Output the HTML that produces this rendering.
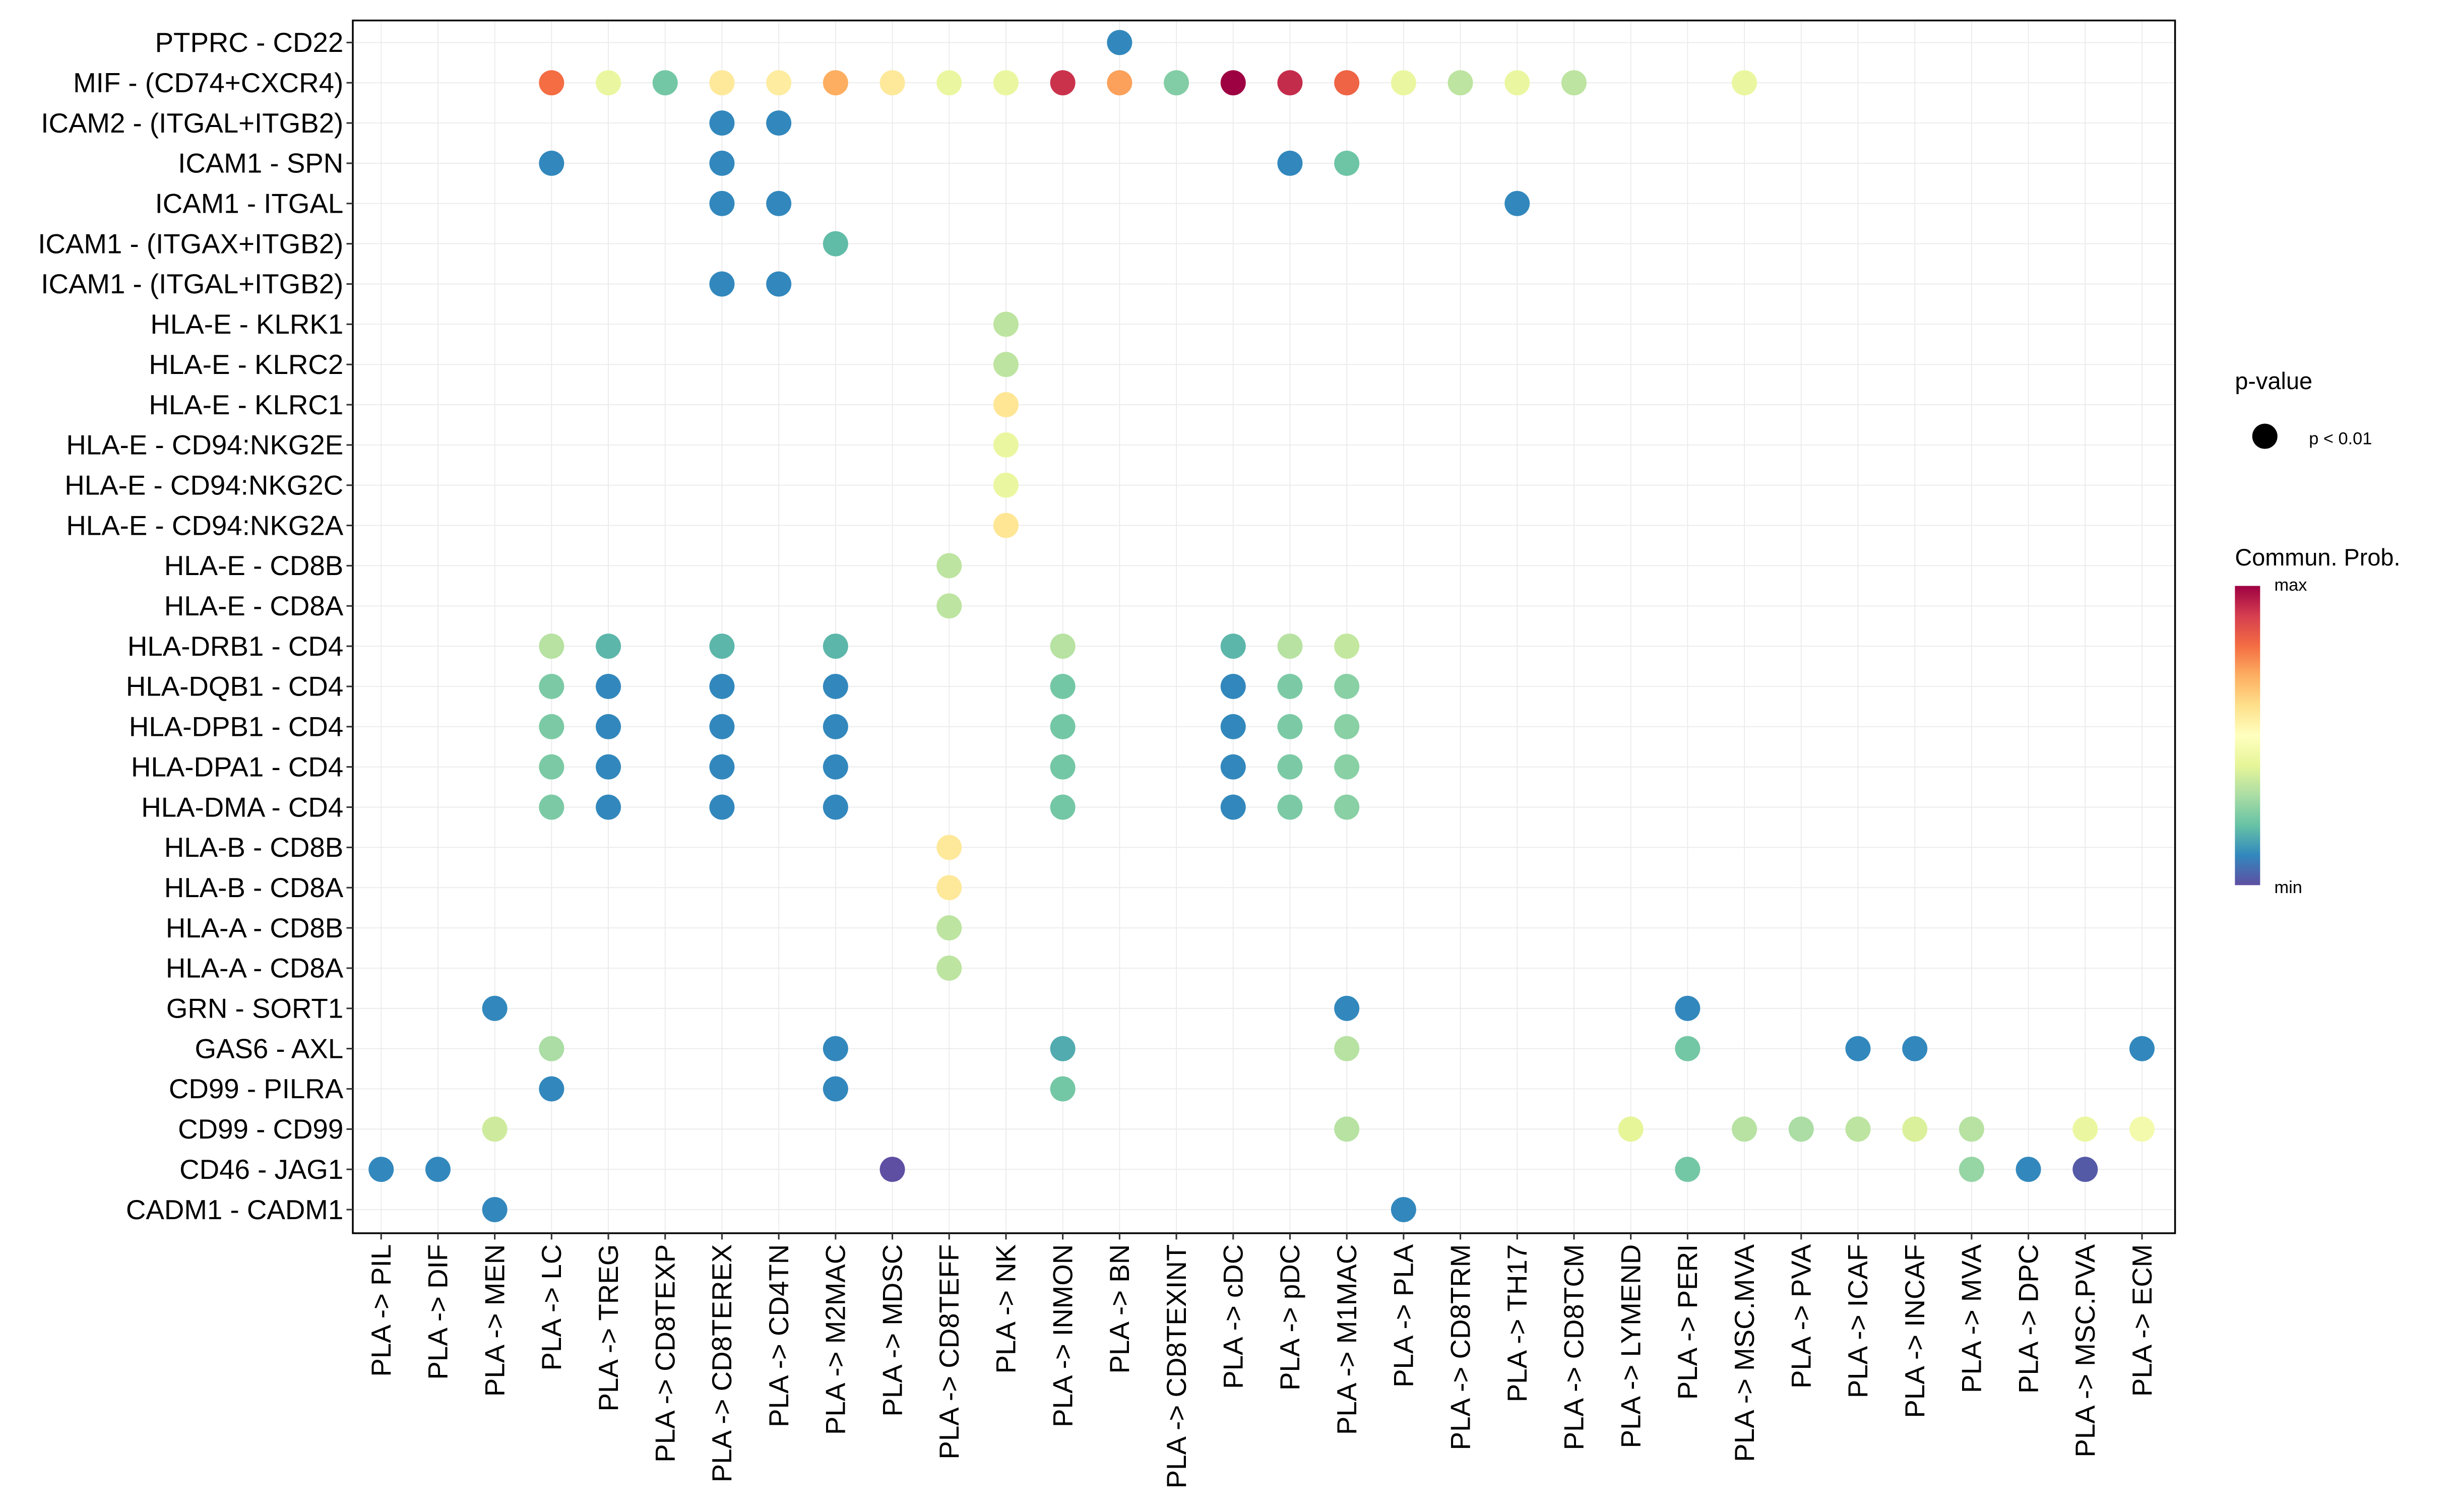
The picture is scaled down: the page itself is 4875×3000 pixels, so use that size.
<!DOCTYPE html>
<html><head><meta charset="utf-8"><style>html,body{margin:0;padding:0;background:#fff}svg{display:block}</style></head>
<body>
<svg id="chart" xmlns="http://www.w3.org/2000/svg" width="4875" height="3000" viewBox="0 0 1560 960" font-family="Liberation Sans, Arial, sans-serif">
<defs>
<linearGradient id="cbar" x1="0" y1="1" x2="0" y2="0">
<stop offset="0" stop-color="#5E4FA2"/><stop offset="0.1" stop-color="#3288BD"/><stop offset="0.2" stop-color="#66C2A5"/><stop offset="0.3" stop-color="#ABDDA4"/><stop offset="0.4" stop-color="#E6F598"/><stop offset="0.5" stop-color="#FFFFBF"/><stop offset="0.6" stop-color="#FEE08B"/><stop offset="0.7" stop-color="#FDAE61"/><stop offset="0.8" stop-color="#F46D43"/><stop offset="0.9" stop-color="#D53E4F"/><stop offset="1" stop-color="#9E0142"/>
</linearGradient>
</defs>
<g id="grid"></g>
<g id="marks"></g>
<rect x="224" y="13" width="1157" height="770" fill="none" stroke="#000" stroke-width="1.1"/>
<g id="axes"></g>
<g>
<text x="1419" y="247" font-size="15">p-value</text>
<circle cx="1438" cy="277" r="8" fill="#000"/>
<text x="1466" y="282" font-size="11">p &lt; 0.01</text>
<text x="1419" y="359" font-size="15">Commun. Prob.</text>
<rect x="1419" y="372" width="16" height="190" fill="url(#cbar)"/>
<text x="1444" y="375" font-size="11">max</text>
<text x="1444" y="567" font-size="11">min</text>
</g>
</svg>
<script>
const columns = ["PIL","DIF","MEN","LC","TREG","CD8TEXP","CD8TEREX","CD4TN","M2MAC","MDSC","CD8TEFF","NK","INMON","BN","CD8TEXINT","cDC","pDC","M1MAC","PLA","CD8TRM","TH17","CD8TCM","LYMEND","PERI","MSC.MVA","PVA","ICAF","INCAF","MVA","DPC","MSC.PVA","ECM"];
const rows = ["PTPRC - CD22","MIF - (CD74+CXCR4)","ICAM2 - (ITGAL+ITGB2)","ICAM1 - SPN","ICAM1 - ITGAL","ICAM1 - (ITGAX+ITGB2)","ICAM1 - (ITGAL+ITGB2)","HLA-E - KLRK1","HLA-E - KLRC2","HLA-E - KLRC1","HLA-E - CD94:NKG2E","HLA-E - CD94:NKG2C","HLA-E - CD94:NKG2A","HLA-E - CD8B","HLA-E - CD8A","HLA-DRB1 - CD4","HLA-DQB1 - CD4","HLA-DPB1 - CD4","HLA-DPA1 - CD4","HLA-DMA - CD4","HLA-B - CD8B","HLA-B - CD8A","HLA-A - CD8B","HLA-A - CD8A","GRN - SORT1","GAS6 - AXL","CD99 - PILRA","CD99 - CD99","CD46 - JAG1","CADM1 - CADM1"];
const pointCols = [13, 3,4,5,6,7,8,9,10,11,12,13,14,15,16,17,18,19,20,21,24, 6,7, 3,6,16,17, 6,7,20, 8, 6,7, 11,11,11,11,11,11, 10,10, 3,4,6,8,12,15,16,17, 3,4,6,8,12,15,16,17, 3,4,6,8,12,15,16,17, 3,4,6,8,12,15,16,17, 3,4,6,8,12,15,16,17, 10,10,10,10, 2,17,23, 3,8,12,17,23,26,27,31, 3,8,12, 2,17,22,24,25,26,27,28,30,31, 0,1,9,23,28,29,30, 2,18];
const pointRows = [0, 1,1,1,1,1,1,1,1,1,1,1,1,1,1,1,1,1,1,1,1, 2,2, 3,3,3,3, 4,4,4, 5, 6,6, 7,8,9,10,11,12, 13,14, 15,15,15,15,15,15,15,15, 16,16,16,16,16,16,16,16, 17,17,17,17,17,17,17,17, 18,18,18,18,18,18,18,18, 19,19,19,19,19,19,19,19, 20,21,22,23, 24,24,24, 25,25,25,25,25,25,25,25, 26,26,26, 27,27,27,27,27,27,27,27,27,27, 28,28,28,28,28,28,28, 29,29];
const pointValues = [0.1, 0.8,0.42,0.22,0.57,0.56,0.7,0.57,0.42,0.42,0.92,0.72,0.24,1.0,0.93,0.82,0.42,0.33,0.42,0.33,0.42, 0.1,0.1, 0.1,0.1,0.1,0.21, 0.1,0.1,0.1, 0.19, 0.1,0.1, 0.33,0.33,0.58,0.42,0.42,0.58, 0.33,0.33, 0.32,0.18,0.18,0.18,0.32,0.18,0.32,0.34, 0.23,0.1,0.1,0.1,0.22,0.1,0.23,0.25, 0.23,0.1,0.1,0.1,0.22,0.1,0.23,0.25, 0.23,0.1,0.1,0.1,0.22,0.1,0.23,0.25, 0.23,0.1,0.1,0.1,0.22,0.1,0.23,0.25, 0.57,0.57,0.33,0.33, 0.1,0.1,0.1, 0.3,0.1,0.16,0.32,0.22,0.1,0.1,0.1, 0.1,0.1,0.22, 0.36,0.32,0.4,0.32,0.3,0.33,0.38,0.32,0.42,0.45, 0.1,0.1,0.0,0.22,0.27,0.1,0.02, 0.1,0.1];

const NS="http://www.w3.org/2000/svg";
const x0=242, dx=(1360-242)/31, y0=27, dy=(768-27)/29;
function xScale(i){return x0+i*dx;}
function yScale(j){return y0+j*dy;}
const pal=["#5E4FA2","#3288BD","#66C2A5","#ABDDA4","#E6F598","#FFFFBF","#FEE08B","#FDAE61","#F46D43","#D53E4F","#9E0142"];
function hex(h){return [1,3,5].map(k=>parseInt(h.substr(k,2),16));}
function colorScale(v){v=Math.max(0,Math.min(1,v));const t=v*10,i=Math.min(9,Math.floor(t)),f=t-i;const a=hex(pal[i]),b=hex(pal[i+1]);return "rgb("+a.map((c,k)=>Math.round(c+(b[k]-c)*f)).join(",")+")";}
function mk(tag,attrs,parent){const e=document.createElementNS(NS,tag);for(const k in attrs)e.setAttribute(k,attrs[k]);parent.appendChild(e);return e;}
const grid=document.getElementById('grid'), marks=document.getElementById('marks'), axes=document.getElementById('axes');
columns.forEach((c,i)=>{
  const l=mk('line',{x1:xScale(i),x2:xScale(i),y1:13,y2:783,stroke:'#ebebeb','stroke-width':0.6},grid);
  
  
  const t=mk('line',{x1:xScale(i),x2:xScale(i),y1:783,y2:787,stroke:'#333','stroke-width':1},axes);
  
  
  const x=xScale(i)+6, y=790;
  const tx=mk('text',{x:x,y:y,'font-size':17.5,'text-anchor':'end',transform:'rotate(-90 '+x+' '+y+')'},axes);
  tx.textContent='PLA -> '+c;
  
  
});
rows.forEach((r,j)=>{
  const l=mk('line',{x1:224,x2:1381,y1:yScale(j),y2:yScale(j),stroke:'#ebebeb','stroke-width':0.6},grid);
  
  
  const t=mk('line',{x1:220,x2:224,y1:yScale(j),y2:yScale(j),stroke:'#333','stroke-width':1},axes);
  
  
  const tx=mk('text',{x:218,y:yScale(j)+6,'font-size':17.5,'text-anchor':'end'},axes);
  tx.textContent=r;
  
  
});
pointValues.forEach((v,k)=>{
  const c=mk('circle',{cx:xScale(pointCols[k]),cy:yScale(pointRows[k]),r:8,fill:colorScale(v)},marks);
  
  
});
</script>
</body></html>
